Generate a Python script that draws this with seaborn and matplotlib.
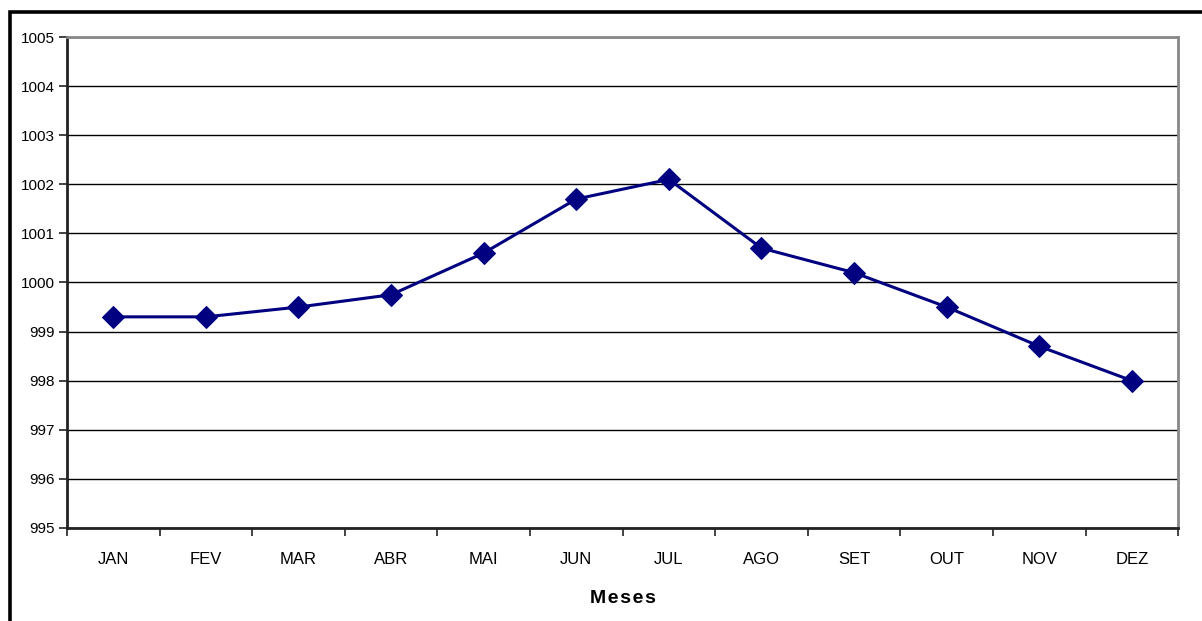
import matplotlib
matplotlib.use("Agg")
import matplotlib.pyplot as plt
import seaborn as sns
import pandas as pd
import numpy as np
from matplotlib.patches import Rectangle

meses = ["JAN", "FEV", "MAR", "ABR", "MAI", "JUN", "JUL", "AGO", "SET", "OUT", "NOV", "DEZ"]
pressao = [999.3, 999.3, 999.5, 999.75, 1000.6, 1001.7, 1002.1, 1000.7, 1000.2, 999.5, 998.7, 998.0]
y_ticks = [995, 996, 997, 998, 999, 1000, 1001, 1002, 1003, 1004, 1005]

sns.set_style("white")
plt.rcParams["font.family"] = ["Liberation Sans", "DejaVu Sans"]
plt.rcParams["text.color"] = "black"
plt.rcParams["axes.labelcolor"] = "black"
plt.rcParams["xtick.color"] = "black"
plt.rcParams["ytick.color"] = "black"

df = pd.DataFrame({"mes": np.arange(len(meses)), "pressao": pressao})

fig = plt.figure(figsize=(12.02, 6.21), dpi=100)
ax = fig.add_axes([0.0557, 0.1498, 0.9245, 0.7906])

for v in y_ticks:
    ax.axhline(v, color="black", lw=1.0, zorder=1)

sns.lineplot(data=df, x="mes", y="pressao", ax=ax, color="#000080", lw=2.2,
             marker="D", markersize=11, markeredgecolor="#000080", zorder=3)

ax.set_xlim(-0.5, len(meses) - 0.5)
ax.set_ylim(995, 1005)
ax.set_yticks(y_ticks)
ax.set_yticklabels([str(v) for v in y_ticks], fontsize=11)
ax.set_xticks(np.arange(len(meses)))
ax.set_xticklabels(meses, fontsize=12)
ax.set_xticks(np.arange(-0.5, len(meses)), minor=True)
ax.tick_params(axis="x", which="major", bottom=True, length=0, pad=17)
ax.tick_params(axis="x", which="minor", bottom=True, length=6, width=1.2,
               color="#222222", direction="out")
ax.tick_params(axis="y", left=True, length=6, width=1.2, color="#222222",
               direction="out", pad=3)

# slightly letter-spaced axis title
ax.set_xlabel("\u200a".join("Meses"), fontsize=14, fontweight="bold", labelpad=17)
ax.set_ylabel("")

for side in ["left", "bottom"]:
    ax.spines[side].set_color("#222222")
    ax.spines[side].set_linewidth(2.0)
for side in ["top", "right"]:
    ax.spines[side].set_color("#888888")
    ax.spines[side].set_linewidth(2.0)

fig.patches.append(Rectangle((10 / 1202, -0.1), 1.2, 1.1 - 12 / 621,
                             transform=fig.transFigure, fill=False,
                             edgecolor="black", lw=2.6))

fig.savefig("out.png", dpi=100)
